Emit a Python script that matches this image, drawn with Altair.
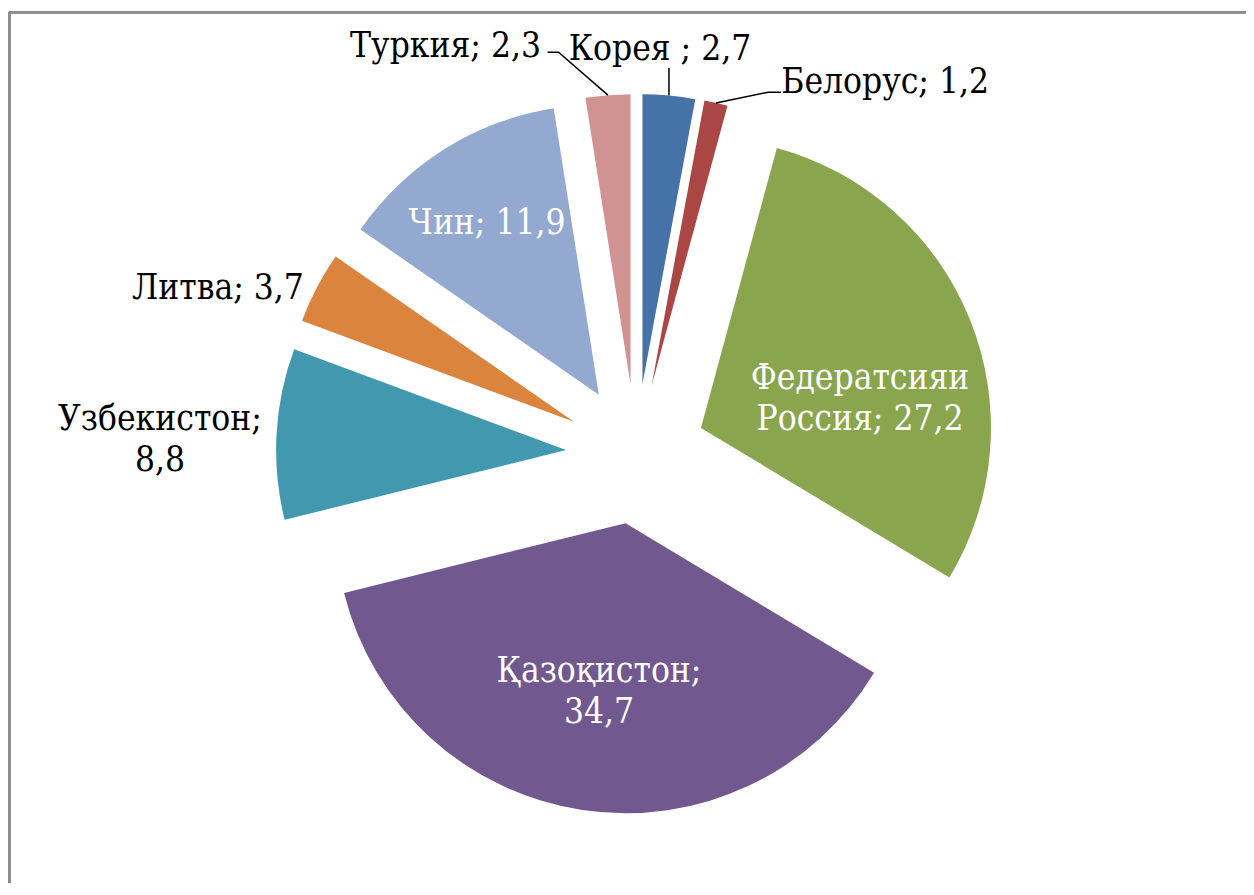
import math
import altair as alt
import pandas as pd

# ---- data ----
names = ["Корея", "Белорус", "Федератсияи Россия", "Қазоқистон",
         "Узбекистон", "Литва", "Чин", "Туркия"]
values = [2.7, 1.2, 27.2, 34.7, 8.8, 3.7, 11.9, 2.3]
label_texts = ["Корея ; 2,7", "Белорус; 1,2", "Федератсияи\nРоссия; 27,2",
               "Қазоқистон;\n34,7", "Узбекистон;\n8,8", "Литва; 3,7",
               "Чин; 11,9", "Туркия; 2,3"]

# ---- style / layout ----
colors = ["#4572A7", "#AA4643", "#89A54E", "#71588F",
          "#4198AF", "#DB843D", "#93A9CF", "#D19392"]
label_colors = ["black", "black", "white", "white", "black", "black", "white", "black"]
W, H = 1238, 875
CX, CY = 628.0, 446.0      # pie centre (plot coords)
R = 290                    # pie radius
EXPLODE = 70               # explosion distance
# label anchor: angle (deg, clockwise from 12 o'clock) and distance from exploded centre
label_angle = [3.1, 38.6, 76.3, 189.5, 272.8, 289.0, 325.2, 330.5]
label_radius = [324.8, 374.4, 163.7, 161.0, 406.6, 376.5, 195.8, 375.7]
FONT = "DejaVu Serif Condensed, DejaVu Serif"
FS = 35

total = sum(values)
rows, lab_rows, lead_rows = [], [], []
cum = 0.0
for i, (n, v) in enumerate(zip(names, values)):
    start, end = cum, cum + v
    cum = end
    mid = 2 * math.pi * (start + end) / 2 / total
    ex = CX + EXPLODE * math.sin(mid)
    ey = CY - EXPLODE * math.cos(mid)
    rows.append({"name": n, "start": start, "end": end, "x": ex, "y": ey})
    a = math.radians(label_angle[i])
    lx = ex + label_radius[i] * math.sin(a)
    ly = ey - label_radius[i] * math.cos(a)
    lab_rows.append({"name": n, "text": label_texts[i], "x": lx, "y": ly,
                     "tc": label_colors[i]})
    # leader lines for the small outside labels
    sx = ex + R * math.sin(mid)
    sy = ey - R * math.cos(mid)
    if n == "Туркия":
        pts = [(sx, sy), (lx + 113, ly - 5), (lx + 102, ly - 5)]
    elif n == "Корея":
        pts = [(sx, sy), (sx, ly + 8)]
    elif n == "Белорус":
        pts = [(sx, sy), (lx - 117, ly - 1), (lx - 104, ly - 1)]
    else:
        pts = []
    for k, (px, py) in enumerate(pts):
        lead_rows.append({"name": n, "order": k, "x": px, "y": py})

slices = pd.DataFrame(rows)
labels = pd.DataFrame(lab_rows)
leaders = pd.DataFrame(lead_rows)

xs = alt.Scale(domain=[0, W], range=[0, W], nice=False, zero=False)
ys = alt.Scale(domain=[0, H], range=[0, H], nice=False, zero=False)
X = alt.X("x:Q", scale=xs, axis=None)
Y = alt.Y("y:Q", scale=ys, axis=None)

arcs = alt.Chart(slices).mark_arc(outerRadius=R).encode(
    x=X, y=Y,
    theta=alt.Theta("start:Q", scale=alt.Scale(domain=[0, total], range=[0, 2 * math.pi])),
    theta2="end:Q",
    color=alt.Color("name:N", scale=alt.Scale(domain=names, range=colors), legend=None),
)

lead = alt.Chart(leaders).mark_line(color="black", strokeWidth=1.5).encode(
    x=X, y=Y, detail="name:N", order="order:Q"
)

text = alt.Chart(labels).mark_text(
    font=FONT, fontSize=FS, align="center", baseline="alphabetic",
    lineBreak="\n", lineHeight=41
).encode(
    x=X, y=Y, text="text:N", color=alt.Color("tc:N", scale=None)
)

border_left = alt.Chart(slices).mark_rule(color="#8c8c8c", strokeWidth=2).encode(
    x=alt.value(1.3), y=alt.value(4.3), y2=alt.value(H + 10)
)
border_top = alt.Chart(slices).mark_rule(color="#8c8c8c", strokeWidth=2).encode(
    x=alt.value(1.3), x2=alt.value(W), y=alt.value(4.3)
)

chart = alt.layer(arcs, lead, text, border_left, border_top).properties(
    width=W, height=H, padding=0, autosize=alt.AutoSizeParams(type="none"),
    background="white"
).configure_view(stroke=None)

chart.save("out.html", embed_options={"renderer": "svg", "actions": False})
